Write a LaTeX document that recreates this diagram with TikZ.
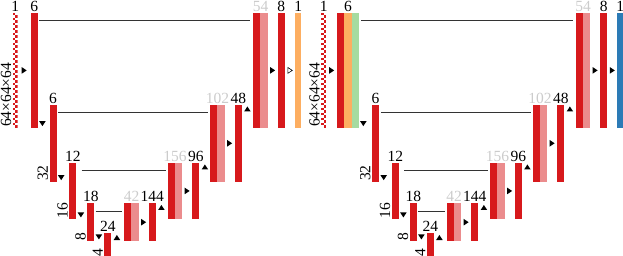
\documentclass[tikz,border=0pt]{standalone}
\usepackage{fontspec}
\setmainfont{Liberation Serif}
\usetikzlibrary{positioning,calc}
\definecolor{cred}{HTML}{D7191C}
\definecolor{corange}{HTML}{FDAE61}
\definecolor{cgreen}{HTML}{A6DBA0}
\definecolor{cblue}{HTML}{2C7BB6}
\tikzset{
	lab/.style={font=\fontsize{15.5}{15.5}\selectfont, inner sep=1pt},
	bar/.style={fill=cred, inner sep=0pt, minimum width=7.2pt, anchor=north west},
	barl/.style={bar, fill=cred!50},
	chk/.style={bar, fill=white, minimum width=5pt, path picture={
		\foreach \r in {0,2,...,46} {
			\fill[cred] ([yshift=-\r*2.5pt]path picture bounding box.north west) rectangle ++(2.5,2.5);
			\fill[cred] ([xshift=2.5pt,yshift=-\r*2.5pt-2.5pt]path picture bounding box.north west) rectangle ++(2.5,2.5);
		}}},
	skip/.style={black!80, line width=0.8pt},
	rtri/.pic={\fill (-2.5,-3.3) -- (2.5,0) -- (-2.5,3.3) -- cycle;},
	rtrio/.pic={\draw[line width=0.6pt] (-2.2,-2.9) -- (2.2,0) -- (-2.2,2.9) -- cycle;},
	dtri/.pic={\fill (-3.3,-2.5) -- (3.3,-2.5) -- (0,2.5) -- cycle;},
	utri/.pic={\fill (-3.3,2.5) -- (3.3,2.5) -- (0,-2.5) -- cycle;}
}
\begin{document}
\begin{tikzpicture}[x=1pt, y=-1pt]
	\clip (0,0) rectangle (623,256);
	
	% left network: input, first conv, output
	\node[chk, minimum height=115pt] (a-in) at (12.5,12.7) {};
	\node[bar, minimum height=115pt] (a-c1) at (30.5,12.7) {};
	\node[bar, fill=corange, minimum width=6pt, minimum height=115pt] (a-out) at (295,12.7) {};
	
	% right network: input, first conv, output
	\node[chk, minimum height=115pt] (b-in) at (321,12.7) {};
	\node[bar, minimum height=115pt] (b-c1) at (337,12.7) {};
	\node[bar, fill=corange, minimum height=115pt] (b-c1o) at (344.2,12.7) {};
	\node[bar, fill=cgreen, minimum height=115pt] (b-c1g) at (351.4,12.7) {};
	\node[bar, fill=cblue, minimum width=6pt, minimum height=115pt] (b-out) at (617,12.7) {};
	
	% the U in both networks
	\foreach \s/\n in {0/a, 322.5/b} {
		\begin{scope}[xshift=\s pt]
			\node[bar, minimum height=77.2pt] (\n-c2) at (49.3,104.5) {};
			\node[bar, minimum height=56.5pt] (\n-c3) at (69,162.5) {};
			\node[bar, minimum height=38pt] (\n-c4) at (87,203) {};
			\node[bar, minimum height=24pt] (\n-c5) at (104,233) {};
			\node[bar, minimum height=38pt] (\n-cat4) at (124,203) {};
			\node[barl, minimum height=38pt] (\n-cat4l) at (131.2,203) {};
			\node[bar, minimum height=38pt] (\n-u4) at (148.5,203) {};
			\node[bar, minimum height=56.5pt] (\n-cat3) at (167.5,162.5) {};
			\node[barl, minimum height=56.5pt] (\n-cat3l) at (174.7,162.5) {};
			\node[bar, minimum height=56.5pt] (\n-u3) at (192,162.5) {};
			\node[bar, minimum height=77.2pt] (\n-cat2) at (210,104.5) {};
			\node[barl, minimum height=77.2pt] (\n-cat2l) at (217.2,104.5) {};
			\node[bar, minimum height=77.2pt] (\n-u2) at (234.5,104.5) {};
			\node[bar, minimum height=115pt] (\n-cat1) at (253,12.7) {};
			\node[barl, minimum height=115pt] (\n-cat1l) at (260.2,12.7) {};
			\node[bar, minimum height=115pt] (\n-u1) at (277.5,12.7) {};
		\end{scope}
		
		% skip connections
		\draw[skip] ([xshift=1.4pt,yshift=-8pt]\n-c2.north east) -- ([xshift=-2pt,yshift=-8pt]\n-cat2.north west);
		\draw[skip] ([xshift=5pt,yshift=-8pt]\n-c3.north east) -- ([xshift=-2pt,yshift=-8pt]\n-cat3.north west);
		\draw[skip] ([xshift=1pt,yshift=-8pt]\n-c4.north east) -- ([xshift=-2pt,yshift=-8pt]\n-cat4.north west);
		
		% operations
		\foreach \b in {c2,c3,c4}
			\pic at ([xshift=4.3pt,yshift=4.5pt]\n-\b.south east) {dtri};
		\foreach \b in {c5,u4,u3,u2}
			\pic at ([xshift=5.3pt,yshift=-4.5pt]\n-\b.north east) {utri};
		\foreach \p/\q in {cat4l/u4, cat3l/u3, cat2l/u2, cat1l/u1}
			\pic at ($(\n-\p.east)!0.5!(\n-\q.west)$) {rtri};
		
		% sizes
		\node[lab, rotate=90, anchor=south west] (\n-s2) at (\n-c2.south west) {32};
		\node[lab, rotate=90, anchor=south west] (\n-s3) at (\n-c3.south west) {16};
		\node[lab, rotate=90, anchor=south west] (\n-s4) at (\n-c4.south west) {8};
		\node[lab, rotate=90, anchor=south west] (\n-s5) at (\n-c5.south west) {4};
		\node[lab, rotate=90, anchor=south west] (\n-s1) at (\n-in.south west) {64×64×64};
		
		% channels
		\foreach \b/\t in {in/1, c2/6, c3/12, c4/18, c5/24, u4/144, u3/96, u2/48, u1/8, out/1}
			\node[lab, above] (\n-\b-t) at (\n-\b.north) {\t};
		\foreach \b/\t in {cat4/42, cat3/156, cat2/102, cat1/54}
			\node[lab, above, black!20] (\n-\b-t) at (\n-\b.north east) {\t};
		
		\pic at ($(\n-in.east)!0.5!(\n-c1.west)$) {rtri};
	}
	
	% first level of each network
	\node[lab, above] (a-c1-t) at (a-c1.north) {6};
	\node[lab, above] (b-c1-t) at (b-c1o.north) {6};
	\draw[skip] ([xshift=1.2pt,yshift=-8pt]a-c1.north east) -- ([xshift=-3pt,yshift=-8pt]a-cat1.north west);
	\draw[skip] ([xshift=2pt,yshift=-8pt]b-c1g.north east) -- ([xshift=-3pt,yshift=-8pt]b-cat1.north west);
	\pic at ([xshift=4.3pt,yshift=4.5pt]a-c1.south east) {dtri};
	\pic at ([xshift=4.3pt,yshift=4.5pt]b-c1g.south east) {dtri};
	\pic at ($(a-u1.east)!0.5!(a-out.west)$) {rtrio};
	\pic at ($(b-u1.east)!0.5!(b-out.west)$) {rtri};
\end{tikzpicture}
\end{document}
